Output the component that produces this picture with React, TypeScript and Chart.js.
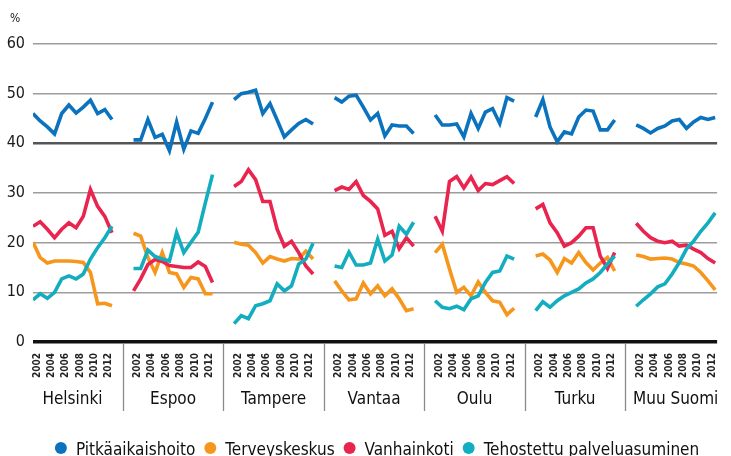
import React, { useEffect, useRef } from "react";
import { Chart, registerables } from "chart.js";

Chart.register(...registerables);

const cities = ["Helsinki", "Espoo", "Tampere", "Vantaa", "Oulu", "Turku", "Muu Suomi"];
const years = [2002, 2003, 2004, 2005, 2006, 2007, 2008, 2009, 2010, 2011, 2012, 2013];
const tickYears = [2002, 2004, 2006, 2008, 2010, 2012];
const yTicks = [0, 10, 20, 30, 40, 50, 60];

const seriesNames = ["Pitkäaikaishoito", "Terveyskeskus", "Vanhainkoti", "Tehostettu palveluasuminen"];
const seriesColors = ["#0b72bd", "#f7961c", "#e8244f", "#12adbf"];

// Pitkäaikaishoito (blue)
const pitkaaikaishoito = [
  [46, 44.5, 43.3, 41.9, 46, 47.7, 46.1, 47.3, 48.7, 46, 46.8, 44.8],
  [40.7, 40.7, 44.8, 41.2, 41.8, 38.5, 44.3, 38.8, 42.5, 42, 45, 48.3],
  [48.8, 50, 50.3, 50.7, 46, 48, 44.7, 41.3, 42.7, 44, 44.8, 43.9],
  [49.2, 48.3, 49.5, 49.7, 47.3, 44.7, 46, 41.5, 43.7, 43.5, 43.5, 42],
  [45.7, 43.7, 43.7, 43.9, 41.3, 46, 43, 46.3, 47, 44, 49.2, 48.5],
  [45.3, 48.8, 43.3, 40.3, 42.3, 41.9, 45.3, 46.7, 46.5, 42.7, 42.7, 44.7],
  [43.7, 43, 42.1, 43, 43.5, 44.5, 44.8, 43, 44.3, 45.2, 44.8, 45.2],
];
// Terveyskeskus (orange)
const terveyskeskus = [
  [20.1, 17, 15.9, 16.3, 16.3, 16.3, 16.2, 16, 14, 7.7, 7.8, 7.3],
  [21.9, 21.3, 17, 14, 18, 14, 13.7, 11, 13, 12.7, 9.7, 9.7],
  [20.1, 19.7, 19.5, 18, 15.9, 17.2, 16.7, 16.3, 16.8, 16.7, 18.3, 16.7],
  [12.3, 10.3, 8.5, 8.7, 11.9, 9.7, 11.3, 9.3, 10.7, 8.7, 6.3, 6.7],
  [18, 19.7, 14.7, 10, 11, 9.3, 12.1, 10, 8.3, 8, 5.5, 6.8],
  [17.3, 17.7, 16.5, 14, 16.8, 15.9, 18, 16, 14.5, 15.9, 17, 14.3],
  [17.5, 17.2, 16.7, 16.8, 16.9, 16.7, 16, 15.7, 15.3, 14, 12.3, 10.5],
];
// Vanhainkoti (red)
const vanhainkoti = [
  [23.3, 24.2, 22.7, 21, 22.7, 24, 23, 25.3, 30.7, 27.3, 25.3, 22],
  [10.3, 12.7, 15.6, 16.6, 16.2, 15.4, 15.2, 15, 15, 16.1, 15.2, 12],
  [31.3, 32.3, 34.7, 32.7, 28.3, 28.3, 22.7, 19.3, 20.3, 18, 15.3, 13.7],
  [30.5, 31.2, 30.7, 32.3, 29.5, 28.3, 26.8, 21.5, 22.3, 18.8, 21, 19.3],
  [25.3, 22.3, 32.3, 33.3, 31, 33.2, 30.5, 31.9, 31.7, 32.5, 33.3, 31.9],
  [26.8, 27.7, 24, 22, 19.3, 20, 21.3, 23, 23, 17.3, 14.8, 18],
  [23.9, 22.3, 21, 20.3, 20, 20.3, 19.3, 19.5, 18.7, 18, 16.8, 15.9],
];
// Tehostettu palveluasuminen (teal)
const tehostettu = [
  [8.5, 9.7, 8.8, 10, 12.7, 13.3, 12.7, 13.7, 16.7, 19, 21, 23.3],
  [14.8, 14.8, 18.5, 17.2, 16.7, 16.3, 22, 18, 20.1, 22.1, 28, 33.7],
  [3.7, 5.3, 4.7, 7.3, 7.7, 8.3, 11.7, 10.3, 11.3, 15.7, 16.7, 19.9],
  [15.3, 15, 18.1, 15.5, 15.5, 15.9, 20.7, 16.3, 17.5, 23.3, 21.7, 24.1],
  [8.3, 7, 6.7, 7.2, 6.5, 8.7, 9.3, 12, 14, 14.3, 17.3, 16.7],
  [6.3, 8.1, 7, 8.3, 9.3, 10, 10.7, 11.9, 12.7, 14, 15.7, 17.3],
  [7.2, 8.5, 9.7, 11.1, 11.7, 13.7, 16, 18.7, 20.3, 22.3, 24, 26],
];

const SLOTS = 14; // 12 years + 2 gap slots per city
const FONT = "'DejaVu Sans Condensed', 'DejaVu Sans', sans-serif";

function buildData(groups: number[][]) {
  const out: { x: number; y: number | null }[] = [];
  groups.forEach((vals, g) => {
    vals.forEach((v, i) => out.push({ x: g * SLOTS + i, y: v }));
    out.push({ x: g * SLOTS + years.length, y: null });
  });
  return out;
}

const decorPlugin = {
  id: "decor",
  afterDraw(chart: any) {
    const ctx = chart.ctx;
    const xs = chart.scales.x;
    const area = chart.chartArea;
    ctx.save();
    // percent sign
    ctx.fillStyle = "#222";
    ctx.font = `12px ${FONT}`;
    ctx.textAlign = "left";
    ctx.textBaseline = "alphabetic";
    ctx.fillText("%", 10, 22);
    // separators
    ctx.strokeStyle = "#8a8a8a";
    ctx.lineWidth = 1.3;
    for (let g = 0; g < cities.length - 1; g++) {
      const px = Math.round(xs.getPixelForValue(g * SLOTS + years.length + 0.5)) + 0.5;
      ctx.beginPath();
      ctx.moveTo(px, area.bottom + 1);
      ctx.lineTo(px, area.bottom + 69);
      ctx.stroke();
    }
    // city names
    ctx.fillStyle = "#111";
    ctx.font = `17px ${FONT}`;
    ctx.textAlign = "center";
    cities.forEach((c, g) => {
      const px = xs.getPixelForValue(g * SLOTS + (years.length - 1) / 2);
      ctx.fillText(c, px, 403.5);
    });
    // legend
    ctx.font = `17px ${FONT}`;
    ctx.textAlign = "left";
    const r = 6;
    const gapText = 9;
    const gapItem = 9;
    const widths = seriesNames.map((n) => ctx.measureText(n).width);
    const total = widths.reduce((a, w) => a + 2 * r + gapText + w, 0) + gapItem * (seriesNames.length - 1);
    let x = (area.left + area.right) / 2 - total / 2 + 2;
    const cy = 448;
    seriesNames.forEach((n, i) => {
      ctx.fillStyle = seriesColors[i];
      ctx.beginPath();
      ctx.arc(x + r, cy, r, 0, Math.PI * 2);
      ctx.fill();
      ctx.fillStyle = "#111";
      ctx.fillText(n, x + 2 * r + gapText, 454.5);
      x += 2 * r + gapText + widths[i] + gapItem;
    });
    ctx.restore();
  },
};

export default function App() {
  const ref = useRef<HTMLCanvasElement | null>(null);
  useEffect(() => {
    if (!ref.current) return;
    const allSeries = [pitkaaikaishoito, terveyskeskus, vanhainkoti, tehostettu];
    const orders = [3, 2, 1, 0];
    const chart = new Chart(ref.current, {
      type: "line",
      data: {
        datasets: allSeries.map((s, i) => ({
          label: seriesNames[i],
          data: buildData(s),
          borderColor: seriesColors[i],
          backgroundColor: seriesColors[i],
          borderWidth: 3.6,
          pointRadius: 0,
          tension: 0,
          spanGaps: false,
          order: orders[i],
        })),
      },
      options: {
        animation: false,
        responsive: false,
        devicePixelRatio: 1,
        parsing: false,
        layout: { autoPadding: false, padding: { top: 44, bottom: 74, left: 0, right: 0 } },
        plugins: { legend: { display: false }, tooltip: { enabled: false } },
        scales: {
          x: {
            type: "linear",
            min: 0,
            max: 95.27,
            grid: { display: false, drawTicks: false },
            border: { display: false },
            afterBuildTicks(scale: any) {
              const t: { value: number }[] = [];
              cities.forEach((_, g) => tickYears.forEach((yr) => t.push({ value: g * SLOTS + (yr - years[0]) })));
              scale.ticks = t;
            },
            afterFit(scale: any) {
              scale.height = 40;
            },
            ticks: {
              autoSkip: false,
              minRotation: 90,
              maxRotation: 90,
              padding: 11,
              labelOffset: 4,
              color: "#222",
              font: { family: FONT, size: 10, weight: "bold" },
              callback: (v: any) => String(years[0] + (Number(v) % SLOTS)),
            },
          },
          y: {
            min: 0,
            max: 60,
            afterBuildTicks(scale: any) {
              scale.ticks = yTicks.map((v) => ({ value: v }));
            },
            afterFit(scale: any) {
              scale.width = 33;
            },
            border: { display: false },
            grid: {
              drawTicks: false,
              color: (c: any) => (c.tick.value === 0 ? "#111" : c.tick.value === 40 ? "#555" : "#9c9c9c"),
              lineWidth: (c: any) => (c.tick.value === 0 ? 3.5 : c.tick.value === 40 ? 2.5 : 1.6),
            },
            ticks: {
              padding: 8,
              color: "#1a1a1a",
              font: { family: FONT, size: 16 },
            },
          },
        },
      },
      plugins: [decorPlugin],
    } as any);
    return () => chart.destroy();
  }, []);
  return (
    <div style={{ position: "absolute", left: 0, top: 0, width: 731, height: 456, overflow: "hidden", background: "#fff" }}>
      <canvas ref={ref} width={731} height={456} style={{ display: "block" }} />
    </div>
  );
}
